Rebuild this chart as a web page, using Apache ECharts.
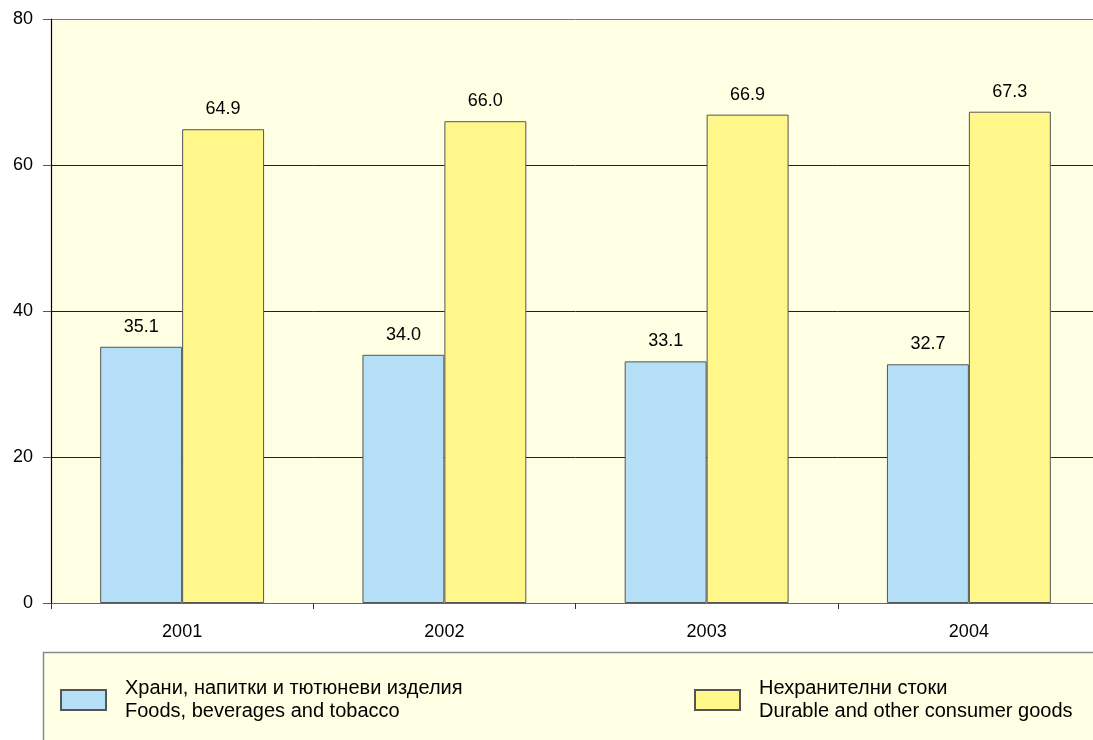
<!DOCTYPE html>
<html>
	<head>
		<meta charset="utf-8">
		<title>Потребление</title>
		<style>
			html, body { margin: 0; padding: 0; background: #ffffff; overflow: hidden; }
			#chart { width: 1100px; height: 740px; }
		</style>
	</head>
	<body>
		<div id="chart"></div>
		<script src="https://cdn.jsdelivr.net/npm/echarts@6/dist/echarts.min.js"></script>
		<script>
			// данни
			var years = ['2001', '2002', '2003', '2004'];
			var foodValues = [35.1, 34.0, 33.1, 32.7];
			var nonFoodValues = [64.9, 66.0, 66.9, 67.3];
			var seriesNames = ['Храни, напитки и тютюневи изделия', 'Нехранителни стоки'];
			var seriesNamesEn = ['Foods, beverages and tobacco', 'Durable and other consumer goods'];
			var yTicks = [0, 20, 40, 60, 80];

			var font = '"Liberation Sans", Arial, Helvetica, sans-serif';

			// графиката е малко по-широка от прозореца, както в оригинала
			var myChart = echarts.init(document.getElementById('chart'));

			function barLabel() {
				return {
					show: true,
					position: 'top',
					distance: 11,
					color: '#000',
					fontSize: 18,
					fontFamily: font,
					formatter: function (p) { return p.value.toFixed(1); }
				};
			}

			function legendBox(i, left) {
				return {
					data: [seriesNames[i]],
					left: left,
					top: 672,
					orient: 'horizontal',
					itemWidth: 45,
					itemHeight: 20,
					selectedMode: false,
					icon: 'rect',
					textStyle: {
						color: '#000',
						fontSize: 20,
						fontFamily: font,
						lineHeight: 23,
						padding: [0, 0, 0, 14]
					},
					formatter: function (name) {
						return name + '\n' + seriesNamesEn[i];
					}
				};
			}

			myChart.setOption({
				animation: false,
				backgroundColor: '#ffffff',
				grid: {
					left: 51,
					top: 19,
					right: 0,
					bottom: 137,
					show: true,
					backgroundColor: '#FFFFE3',
					borderWidth: 0
				},
				graphic: [{
					type: 'rect',
					z: -1,
					shape: { x: 43.5, y: 652.5, width: 1070, height: 100 },
					style: { fill: '#FFFFE3', stroke: '#8a8a8a', lineWidth: 1.5 }
				}],
				legend: [legendBox(0, 55), legendBox(1, 689)],
				xAxis: {
					type: 'category',
					data: years,
					axisLine: { show: true, lineStyle: { color: '#666', width: 1 } },
					axisTick: { show: true, length: 6, lineStyle: { color: '#333' } },
					axisLabel: { color: '#000', fontSize: 18, fontFamily: font, margin: 20 }
				},
				yAxis: {
					type: 'value',
					min: yTicks[0],
					max: yTicks[yTicks.length - 1],
					interval: 20,
					axisLine: { show: true, lineStyle: { color: '#000', width: 1.2 } },
					axisTick: { show: true, length: 8, lineStyle: { color: '#555' } },
					axisLabel: { color: '#000', fontSize: 18, fontFamily: font, margin: 18 },
					splitLine: {
						show: true,
						lineStyle: { color: ['#666', '#222', '#222', '#222', '#777'], width: 1 }
					}
				},
				series: [
					{
						name: seriesNames[0],
						type: 'bar',
						data: foodValues,
						barGap: '0%',
						barCategoryGap: '37.5%',
						itemStyle: { color: '#B4DFF6', borderColor: '#555', borderWidth: 1 },
						label: barLabel()
					},
					{
						name: seriesNames[1],
						type: 'bar',
						data: nonFoodValues,
						barGap: '0%',
						barCategoryGap: '37.5%',
						itemStyle: { color: '#FFF78A', borderColor: '#555', borderWidth: 1 },
						label: barLabel()
					}
				]
			});
		</script>
	</body>
</html>
